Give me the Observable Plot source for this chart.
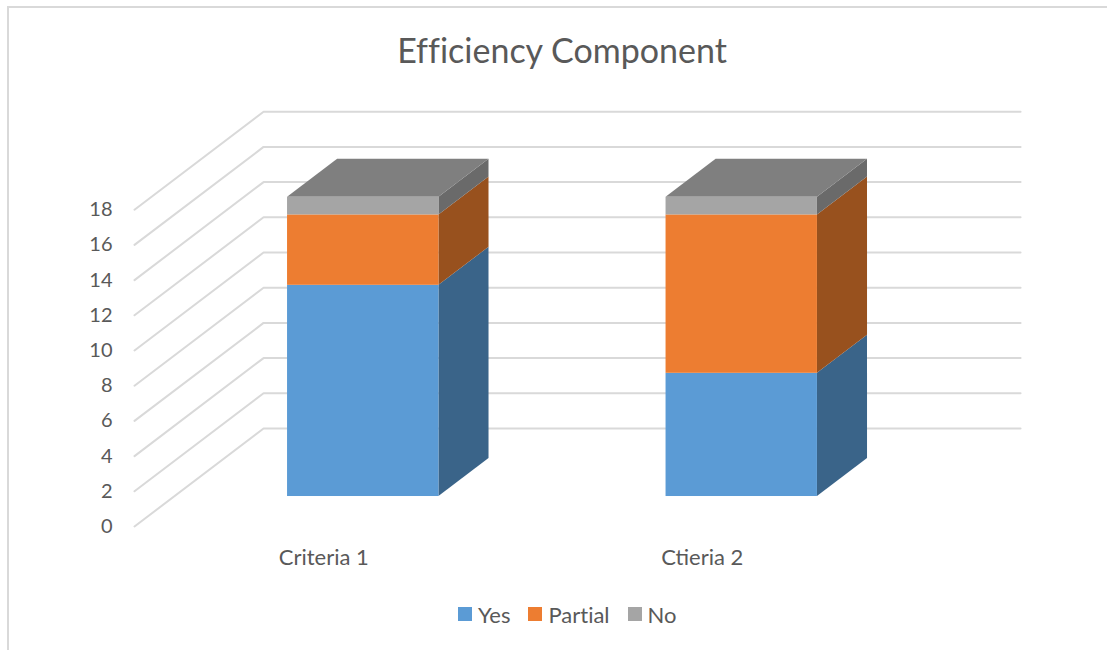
<!DOCTYPE html>
<html>
<head>
<meta charset="utf-8">
<script src="https://cdn.jsdelivr.net/npm/d3@7"></script>
<script src="https://cdn.jsdelivr.net/npm/@observablehq/plot@0.6"></script>
<style>
  html, body { margin: 0; padding: 0; background: #fff; overflow: hidden; }
  #frame { position: relative; width: 1107px; height: 650px; font-family: Lato, sans-serif; color: #595959; font-variant-ligatures: none; }
  #edge { position: absolute; left: 7px; top: 6px; right: 0; bottom: 0; border-left: 2px solid #d9d9d9; border-top: 2px solid #d9d9d9; }
  #title { position: relative; height: 90px; width: 1124px; text-align: center; font-size: 34px; font-weight: 400; line-height: 100px; box-sizing: border-box; }
  #chart { position: relative; height: 490px; }
  #chart svg { display: block; overflow: visible; font-variant-ligatures: none; }
  #legend { position: relative; display: flex; padding-left: 458px; align-items: center; font-size: 22px; height: 28px; margin-top: 20px; }
  #legend span.swatch { display: inline-block; width: 14px; height: 14px; margin-right: 6px; }
  #legend span.name { margin-right: 18px; }
</style>
</head>
<body>
<div id="frame">
  <div id="edge"></div>
  <div id="title">Efficiency Component</div>
  <div id="chart"></div>
  <div id="legend"></div>
</div>
<script>
// Criteria on the category axis and the stacked counts for each one
const categories = ["Criteria 1", "Ctieria 2"];
const seriesNames = ["Yes", "Partial", "No"];
const yes = [12, 7];
const partial = [4, 9];
const no = [1, 1];
const valueTicks = [0, 2, 4, 6, 8, 10, 12, 14, 16, 18];

// Face colours per series
const frontColors = ["#5b9bd5", "#ed7d31", "#a5a5a5"];
const sideColors = ["#3a6489", "#98511e", "#6a6a6a"];
const topColor = "#7f7f7f";

// Oblique projection: depth 0 is the front plane, depth 1 the back wall
const depthX = 0.341;
const depthY = 5.568;
const px = (u, depth) => u + depth * depthX;
const py = (v, depth) => v + depth * depthY;
const barNear = 0.306;
const barFar = 0.694;
const barGap = 0.3;

const seriesValues = [yes, partial, no];

// Floor-to-wall grid polylines
const grid = valueTicks.flatMap((v) => [
  {v, x: px(0, 0), y: py(v, 0)},
  {v, x: px(0, 1), y: py(v, 1)},
  {v, x: px(categories.length, 1), y: py(v, 1)}
]);

// Stack the series into segments
const segments = categories.flatMap((c, i) => {
  let base = 0;
  return seriesNames.map((s, k) => {
    const low = base;
    base += seriesValues[k][i];
    return {key: `${i}-${k}`, i, k, low, high: base, u1: i + barGap, u2: i + 1 - barGap};
  });
});

const fronts = segments.map((d) => ({
  x1: px(d.u1, barNear), x2: px(d.u2, barNear),
  y1: py(d.low, barNear), y2: py(d.high, barNear),
  fill: frontColors[d.k]
}));

const sides = segments.flatMap((d) => [barNear, barFar].map((z) => ({
  key: d.key, x: px(d.u2, z), y1: py(d.low, z), y2: py(d.high, z), fill: sideColors[d.k]
})));

// The top face as an area between its lower and upper edges
const tops = categories.flatMap((c, i) => {
  const total = d3.sum(seriesValues, (s) => s[i]);
  const u1 = i + barGap, u2 = i + 1 - barGap;
  const front = py(total, barNear), back = py(total, barFar);
  return [
    {key: i, x: px(u1, barNear), y1: front, y2: front},
    {key: i, x: px(u1, barFar), y1: front, y2: back},
    {key: i, x: px(u2, barNear), y1: front, y2: back},
    {key: i, x: px(u2, barFar), y1: back, y2: back}
  ];
});

const plot = Plot.plot({
  width: 1107,
  height: 490,
  marginLeft: 134,
  marginRight: 216,
  marginTop: 119.2,
  marginBottom: 54,
  style: {fontFamily: "Lato, sans-serif", background: "transparent"},
  color: {type: "identity"},
  x: {domain: [0, categories.length], axis: null},
  y: {domain: [0, 18], axis: null},
  marks: [
    Plot.line(grid, {x: "x", y: "y", z: "v", stroke: "#d9d9d9", strokeWidth: 2}),
    Plot.area(sides, {x1: "x", y1: "y1", y2: "y2", z: "key", fill: "fill"}),
    Plot.area(tops, {x1: "x", y1: "y1", y2: "y2", z: "key", fill: topColor}),
    Plot.rect(fronts, {x1: "x1", x2: "x2", y1: "y1", y2: "y2", fill: "fill"}),
    Plot.axisY({ticks: valueTicks, tickSize: 0, tickPadding: 22, fontSize: 20, fill: "#595959", label: null}),
    Plot.axisX({
      ticks: categories.map((c, i) => i + 0.5),
      tickFormat: (t) => categories[Math.floor(t)],
      tickSize: 0, tickPadding: 23, fontSize: 22, fill: "#595959", label: null
    })
  ]
});
document.getElementById("chart").append(plot);

// Legend row under the chart
const legend = document.getElementById("legend");
seriesNames.forEach((name, k) => {
  const swatch = document.createElement("span");
  swatch.className = "swatch";
  swatch.style.background = frontColors[k];
  const label = document.createElement("span");
  label.className = "name";
  label.textContent = name;
  legend.append(swatch, label);
});
</script>
</body>
</html>
